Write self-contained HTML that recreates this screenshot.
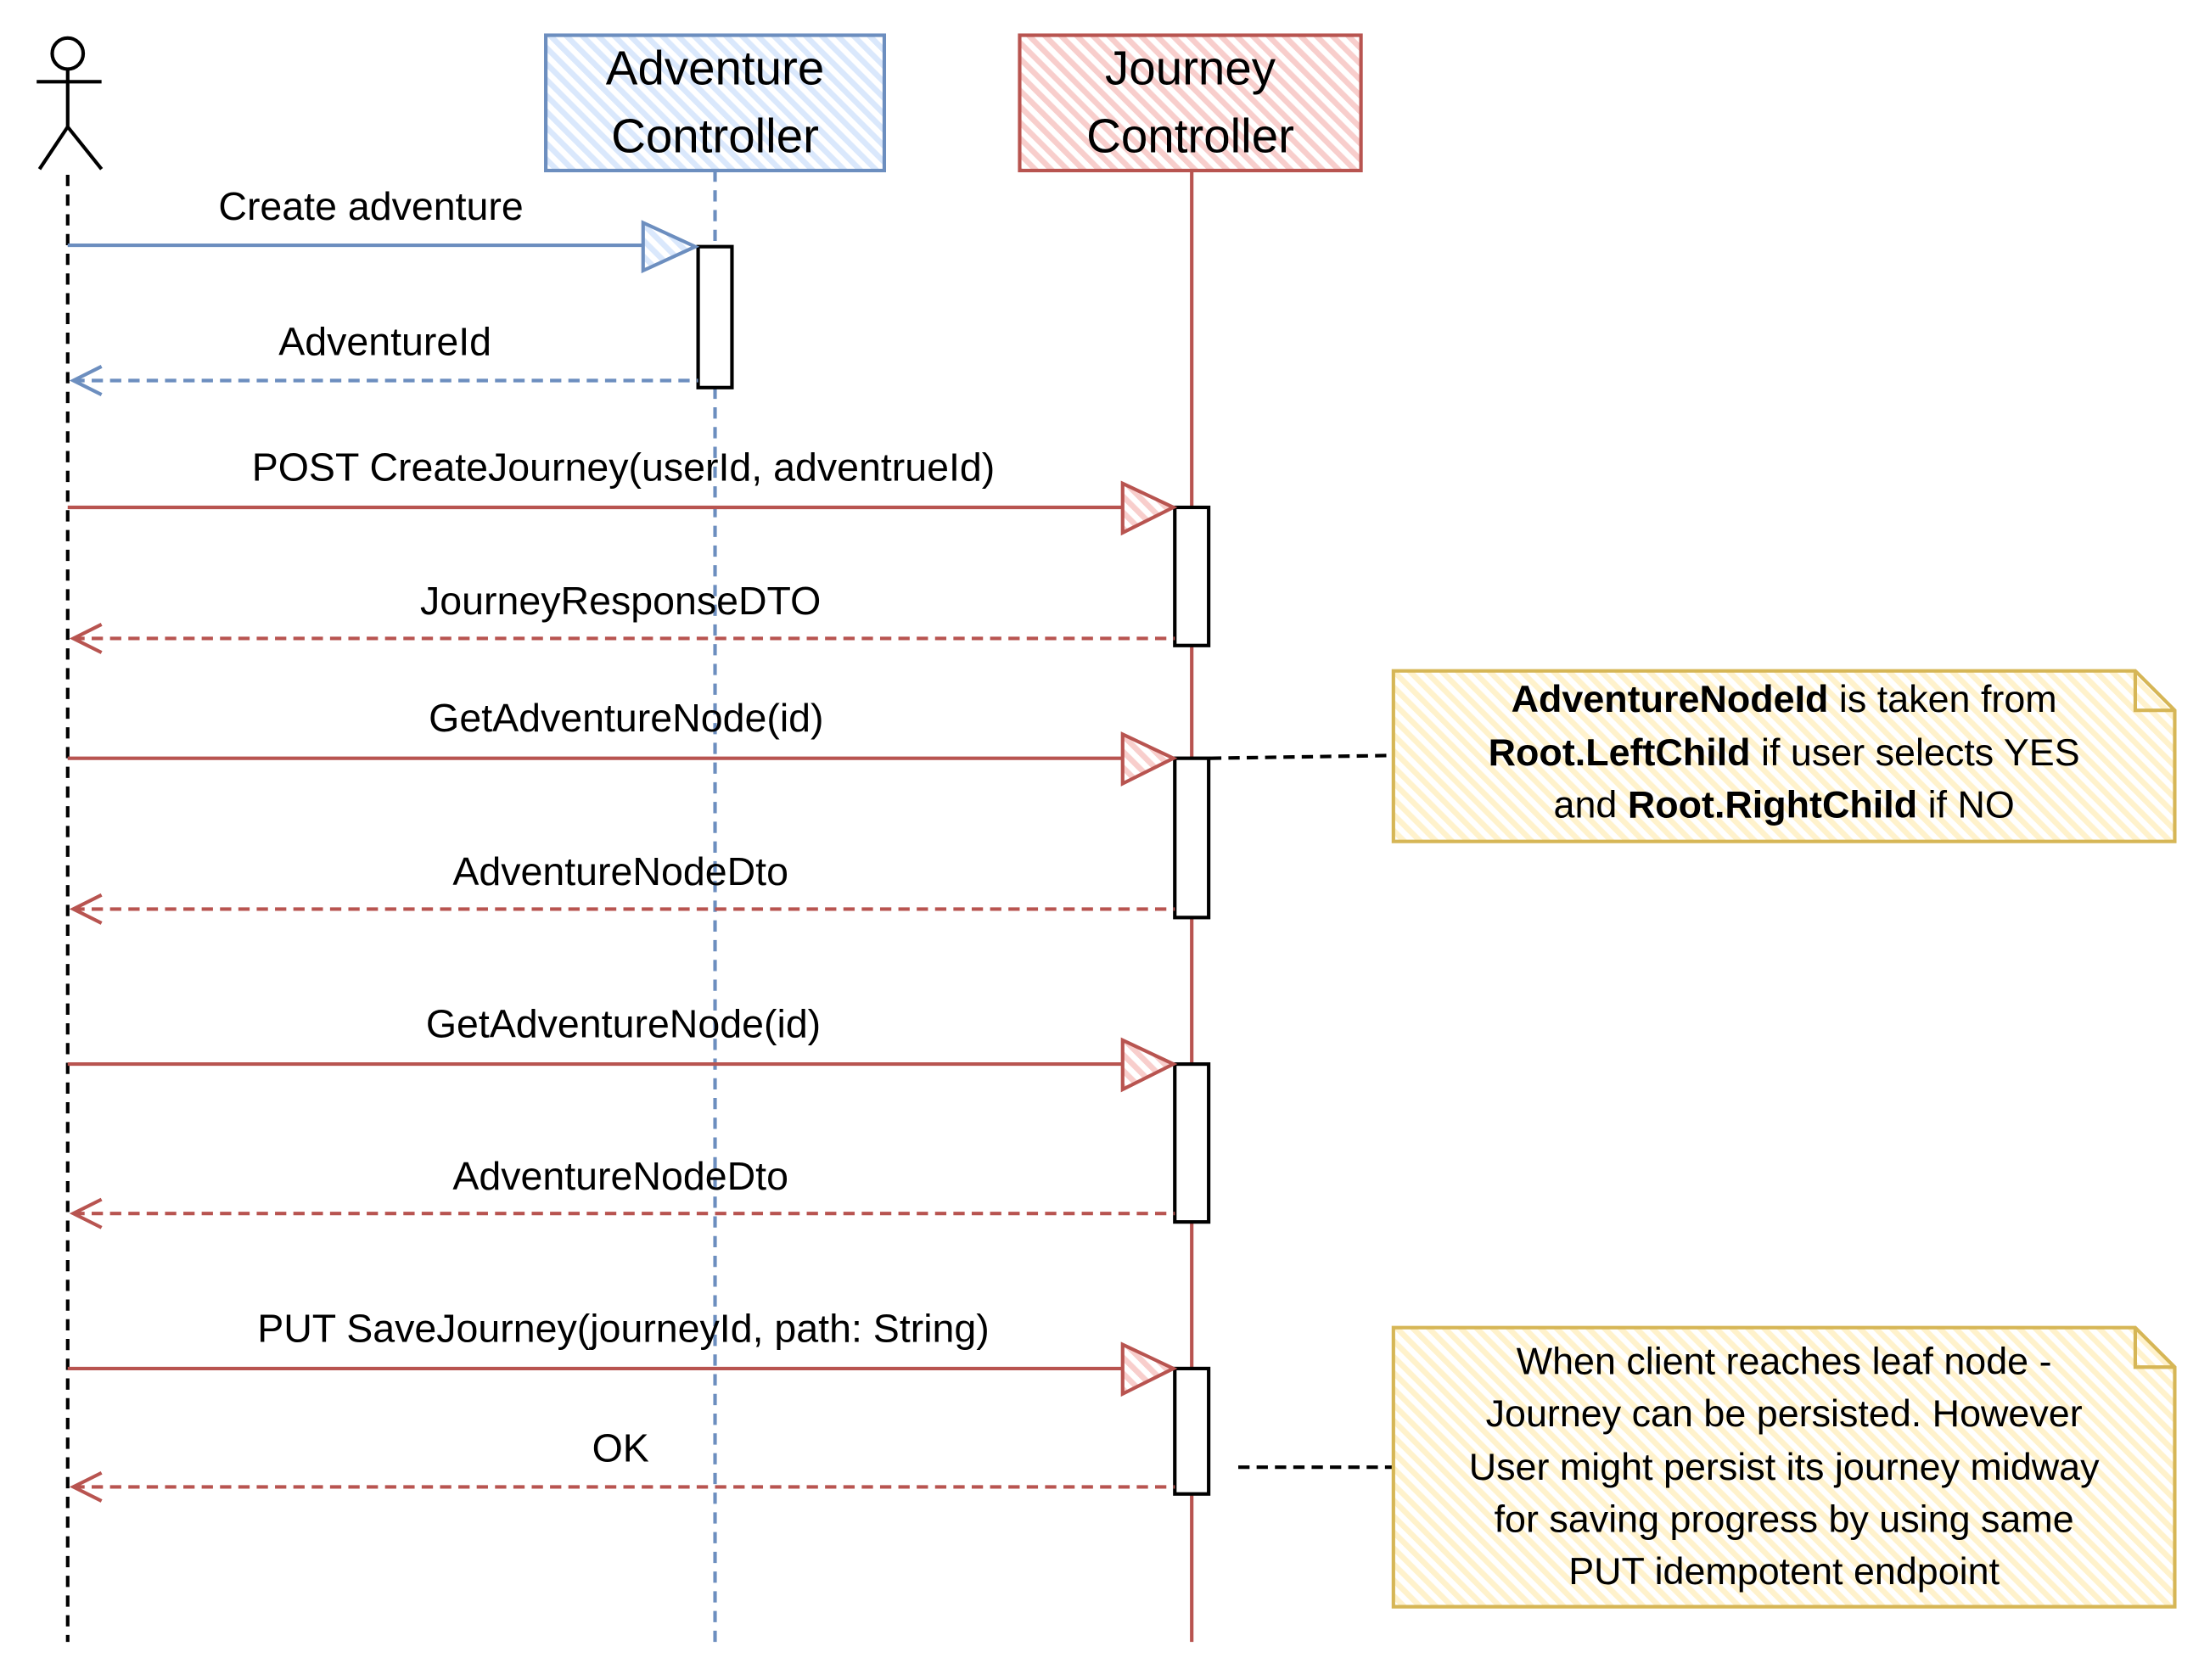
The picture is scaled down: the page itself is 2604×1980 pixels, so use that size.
<!DOCTYPE html>
<html><head><meta charset="utf-8">
<style>
html,body{margin:0;padding:0;background:#fff;}
svg{display:block;}
text{font-family:"Liberation Sans",sans-serif;fill:#000;}
</style></head>
<body>
<svg width="2604" height="1980" viewBox="0 0 1567 1192" preserveAspectRatio="none" xmlns="http://www.w3.org/2000/svg">
<defs>
<pattern id="hb" width="8" height="8" patternUnits="userSpaceOnUse" patternTransform="rotate(-45)"><rect width="8" height="8" fill="#fff"/><rect width="4" height="8" fill="#dae8fc"/></pattern>
<pattern id="hr" width="8" height="8" patternUnits="userSpaceOnUse" patternTransform="rotate(-45)"><rect width="8" height="8" fill="#fff"/><rect width="4" height="8" fill="#f8cecc"/></pattern>
<pattern id="hy" width="8" height="8" patternUnits="userSpaceOnUse" patternTransform="rotate(-45)"><rect width="8" height="8" fill="#fff"/><rect width="4" height="8" fill="#fff2cc"/></pattern>
</defs>

<g stroke="#000" stroke-width="2.5" fill="none">
<circle cx="48" cy="38" r="11"/>
<line x1="48" y1="49" x2="48" y2="90"/>
<line x1="26" y1="58" x2="72" y2="58"/>
<line x1="48" y1="90" x2="28" y2="120"/>
<line x1="48" y1="90" x2="72" y2="120"/>
</g>
<line x1="48" y1="124" x2="48" y2="1165" stroke="#000" stroke-width="2.5" stroke-dasharray="8 6"/>

<rect x="387" y="25" width="240" height="96" fill="url(#hb)" stroke="#6c8ebf" stroke-width="2.5"/>
<text x="507" y="60" font-size="34" text-anchor="middle">Adventure</text>
<text x="507" y="108" font-size="34" text-anchor="middle">Controller</text>
<line x1="507" y1="121" x2="507" y2="1165" stroke="#6c8ebf" stroke-width="2.5" stroke-dasharray="8 6"/>

<rect x="723" y="25" width="242" height="96" fill="url(#hr)" stroke="#b85450" stroke-width="2.5"/>
<text x="844" y="60" font-size="34" text-anchor="middle">Journey</text>
<text x="844" y="108" font-size="34" text-anchor="middle">Controller</text>
<line x1="845" y1="121" x2="845" y2="1165" stroke="#b85450" stroke-width="2.5"/>

<rect x="495" y="175" width="24" height="100" fill="#fff" stroke="#000" stroke-width="2.5"/>
<rect x="833" y="360" width="24" height="98" fill="#fff" stroke="#000" stroke-width="2.5"/>
<rect x="833" y="538" width="24" height="113" fill="#fff" stroke="#000" stroke-width="2.5"/>
<rect x="833" y="755" width="24" height="112" fill="#fff" stroke="#000" stroke-width="2.5"/>
<rect x="833" y="971" width="24" height="89" fill="#fff" stroke="#000" stroke-width="2.5"/>

<g font-size="28" text-anchor="middle">
<line x1="48" y1="174" x2="458" y2="174" stroke="#6c8ebf" stroke-width="2.5"/>
<polygon points="456,158 493,175 456,192" fill="url(#hb)" stroke="#6c8ebf" stroke-width="2.5"/>
<text x="263" y="156">Create adventure</text>

<line x1="52" y1="270" x2="495" y2="270" stroke="#6c8ebf" stroke-width="2.5" stroke-dasharray="8 5"/>
<polyline points="72,260 52,270 72,280" fill="none" stroke="#6c8ebf" stroke-width="2.5"/>
<text x="273" y="252">AdventureId</text>

<line x1="48" y1="360" x2="797" y2="360" stroke="#b85450" stroke-width="2.5"/>
<polygon points="796,343 832,360 796,378" fill="url(#hr)" stroke="#b85450" stroke-width="2.5"/>
<text x="442" y="341">POST CreateJourney(userId, adventrueId)</text>

<line x1="52" y1="453" x2="833" y2="453" stroke="#b85450" stroke-width="2.5" stroke-dasharray="8 5"/>
<polyline points="72,443 52,453 72,463" fill="none" stroke="#b85450" stroke-width="2.5"/>
<text x="440" y="436">JourneyResponseDTO</text>

<line x1="48" y1="538" x2="797" y2="538" stroke="#b85450" stroke-width="2.5"/>
<polygon points="796,521 832,538 796,556" fill="url(#hr)" stroke="#b85450" stroke-width="2.5"/>
<text x="444" y="519">GetAdventureNode(id)</text>

<line x1="52" y1="645" x2="833" y2="645" stroke="#b85450" stroke-width="2.5" stroke-dasharray="8 5"/>
<polyline points="72,635 52,645 72,655" fill="none" stroke="#b85450" stroke-width="2.5"/>
<text x="440" y="628">AdventureNodeDto</text>

<line x1="48" y1="755" x2="797" y2="755" stroke="#b85450" stroke-width="2.5"/>
<polygon points="796,738 832,755 796,773" fill="url(#hr)" stroke="#b85450" stroke-width="2.5"/>
<text x="442" y="736">GetAdventureNode(id)</text>

<line x1="52" y1="861" x2="833" y2="861" stroke="#b85450" stroke-width="2.5" stroke-dasharray="8 5"/>
<polyline points="72,851 52,861 72,871" fill="none" stroke="#b85450" stroke-width="2.5"/>
<text x="440" y="844">AdventureNodeDto</text>

<line x1="48" y1="971" x2="797" y2="971" stroke="#b85450" stroke-width="2.5"/>
<polygon points="796,954 832,971 796,989" fill="url(#hr)" stroke="#b85450" stroke-width="2.5"/>
<text x="442" y="952">PUT SaveJourney(journeyId, path: String)</text>

<line x1="52" y1="1055" x2="833" y2="1055" stroke="#b85450" stroke-width="2.5" stroke-dasharray="8 5"/>
<polyline points="72,1045 52,1055 72,1065" fill="none" stroke="#b85450" stroke-width="2.5"/>
<text x="440" y="1037">OK</text>
</g>

<line x1="858" y1="538" x2="988" y2="536" stroke="#000" stroke-width="2.5" stroke-dasharray="8 5"/>
<path d="M988,476 L1514,476 L1542,504 L1542,597 L988,597 Z" fill="url(#hy)" stroke="#d6b656" stroke-width="2.5"/>
<path d="M1514,476 L1514,504 L1542,504" fill="none" stroke="#d6b656" stroke-width="2.5"/>
<g font-size="27" text-anchor="middle">
<text x="1265" y="505"><tspan font-weight="bold">AdventureNodeId</tspan> is taken from</text>
<text x="1265" y="543"><tspan font-weight="bold">Root.LeftChild</tspan> if user selects YES</text>
<text x="1265" y="580">and <tspan font-weight="bold">Root.RightChild</tspan> if NO</text>
</g>

<line x1="878" y1="1041" x2="988" y2="1041" stroke="#000" stroke-width="2.5" stroke-dasharray="8 5"/>
<path d="M988,942 L1514,942 L1542,970 L1542,1140 L988,1140 Z" fill="url(#hy)" stroke="#d6b656" stroke-width="2.5"/>
<path d="M1514,942 L1514,970 L1542,970" fill="none" stroke="#d6b656" stroke-width="2.5"/>
<g font-size="27" text-anchor="middle">
<text x="1265" y="975">When client reaches leaf node -</text>
<text x="1265" y="1012">Journey can be persisted. However</text>
<text x="1265" y="1050">User might persist its journey midway</text>
<text x="1265" y="1087">for saving progress by using same</text>
<text x="1265" y="1124">PUT idempotent endpoint</text>
</g>
</svg>
</body></html>
